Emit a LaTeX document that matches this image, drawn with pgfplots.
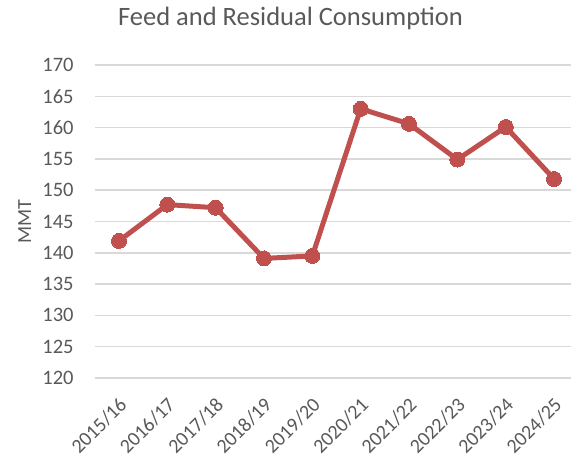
\documentclass[border=0pt]{standalone}
\usepackage{pgfplots}
\pgfplotsset{compat=1.18}
\usepackage{fontspec}
\setmainfont{Carlito}
\definecolor{txt}{HTML}{595959}
\definecolor{grd}{HTML}{D9D9D9}
\definecolor{ln}{HTML}{C0504D}
\begin{document}
\begin{tikzpicture}[x=1pt,y=1pt]
\useasboundingbox (0,0) rectangle (571,460);
\begin{axis}[
  at={(94.8pt,82pt)}, anchor=south west,
  scale only axis, width=476.2pt, height=313pt,
  xmin=-0.5, xmax=9.35, ymin=120, ymax=170,
  ytick={120,125,...,170},
  xtick={0,...,9},
  xticklabels={2015/16,2016/17,2017/18,2018/19,2019/20,2020/21,2021/22,2022/23,2023/24,2024/25},
  x tick label style={xshift=-1pt, yshift=-18pt, rotate=45, anchor=north east, font=\fontsize{20}{20}\selectfont, text=txt, inner sep=0pt},
  y tick label style={font=\fontsize{20.5}{20.5}\selectfont, text=txt, inner sep=0pt, xshift=-21pt},
  /pgf/number format/assume math mode=true,
  ymajorgrids, grid style={grd, line width=1.5pt},
  axis line style={draw=none},
  major tick length=0pt,
  clip=false,
  ylabel={MMT}, ylabel style={font=\fontsize{20}{20}\selectfont, text=txt, at={(rel axis cs:0,0.5)}, anchor=center, yshift=70pt},
]
\addplot[ln, line width=5pt, mark=*, mark size=7.5pt, mark options={fill=ln, draw=ln, line width=0pt}, line join=round]
coordinates {(0,141.9) (1,147.7) (2,147.2) (3,139.1) (4,139.5) (5,163.0) (6,160.6) (7,154.9) (8,160.1) (9,151.8)};
\end{axis}
\node[anchor=base, text=txt, font=\fontsize{26.5}{26.5}\selectfont] at (290.5,434) {Feed and Residual Consumption};
\end{tikzpicture}
\end{document}
